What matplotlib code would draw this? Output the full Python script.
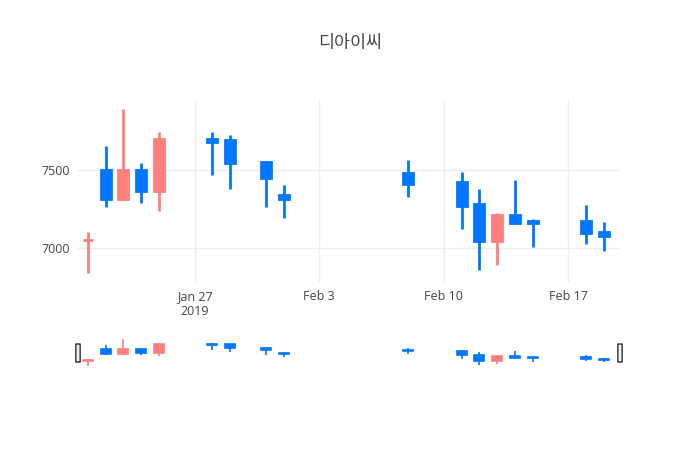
import matplotlib
matplotlib.use("Agg")
import matplotlib.pyplot as plt
import matplotlib.dates as mdates
from matplotlib.patches import FancyBboxPatch
import numpy as np
import datetime as dt

dates = ["2019-01-21","2019-01-22","2019-01-23","2019-01-24","2019-01-25","2019-01-28","2019-01-29",
         "2019-01-31","2019-02-01","2019-02-08","2019-02-11","2019-02-12","2019-02-13","2019-02-14",
         "2019-02-15","2019-02-18","2019-02-19"]
opens  = [7050, 7500, 7313, 7500, 7363, 7700, 7691, 7551, 7343, 7483, 7425, 7283, 7045, 7212, 7176, 7174, 7105]
closes = [7050, 7313, 7500, 7363, 7700, 7680, 7543, 7451, 7313, 7412, 7270, 7045, 7212, 7163, 7163, 7094, 7075]
highs  = [7105, 7657, 7893, 7545, 7745, 7745, 7725, 7551, 7406, 7566, 7489, 7378, 7227, 7438, 7187, 7277, 7167]
lows   = [6841, 7260, 7313, 7288, 7238, 7466, 7378, 7266, 7191, 7328, 7120, 6858, 6893, 7163, 7009, 7028, 6979]
title = "디아이씨"

UP = "#FF7F7F"
DOWN = "#0077FF"
x = mdates.date2num([dt.datetime.strptime(d, "%Y-%m-%d") for d in dates])
xmin = mdates.date2num(dt.datetime(2019, 1, 20)) + 0.45
xmax = mdates.date2num(dt.datetime(2019, 2, 19)) + 0.9

fig = plt.figure(figsize=(7, 4.5), dpi=100)
ax = fig.add_axes([78/700, 168/450, 542/700, 182/450])
sl = fig.add_axes([78/700, 82/450, 542/700, 30/450])

def draw(a, lw):
    for xi, o, c, h, l in zip(x, opens, closes, highs, lows):
        col = UP if c >= o else DOWN
        a.vlines(xi, l, h, color=col, lw=lw, zorder=2)
        bot, top = min(o, c), max(o, c)
        hgt = max(top - bot, 1)
        a.bar(xi, hgt, bottom=bot, width=0.57, color=col, edgecolor=col, lw=lw, zorder=3)

draw(ax, 2)
ax.set_xlim(xmin, xmax)
ax.set_ylim(6782, 7949)
ax.set_yticks([7000, 7500])
ax.set_yticklabels(["7000", "7500"])
ticks = [dt.datetime(2019, 1, 27), dt.datetime(2019, 2, 3), dt.datetime(2019, 2, 10), dt.datetime(2019, 2, 17)]
ax.set_xticks(mdates.date2num(ticks))
ax.set_xticklabels(["Jan 27\n2019", "Feb 3", "Feb 10", "Feb 17"])
ax.grid(True, color="#eeeeee", lw=1, zorder=0)
for s in ax.spines.values():
    s.set_visible(False)
ax.tick_params(length=0, colors="#444444", labelsize=9, pad=6)
for t in ax.get_xticklabels() + ax.get_yticklabels():
    t.set_family("Open Sans")

draw(sl, 1.2)
sl.set_xlim(xmin, xmax)
sl.set_ylim(6750, 7950)
sl.axis("off")
for xa in (0.0, 1.0):
    sl.add_patch(FancyBboxPatch((xa - 0.004, 0.2), 0.008, 0.6, boxstyle="round,pad=0,rounding_size=0.003",
                                transform=sl.transAxes, fc="#eeeeee", ec="#333333", lw=1, clip_on=False, zorder=5))

fig.text(0.5, 1 - 43/450, title, ha="center", va="center", fontsize=12.5,
         family=["Noto Sans CJK KR", "DejaVu Sans"], color="#444444")
fig.savefig("out.png", dpi=100, facecolor="white")
